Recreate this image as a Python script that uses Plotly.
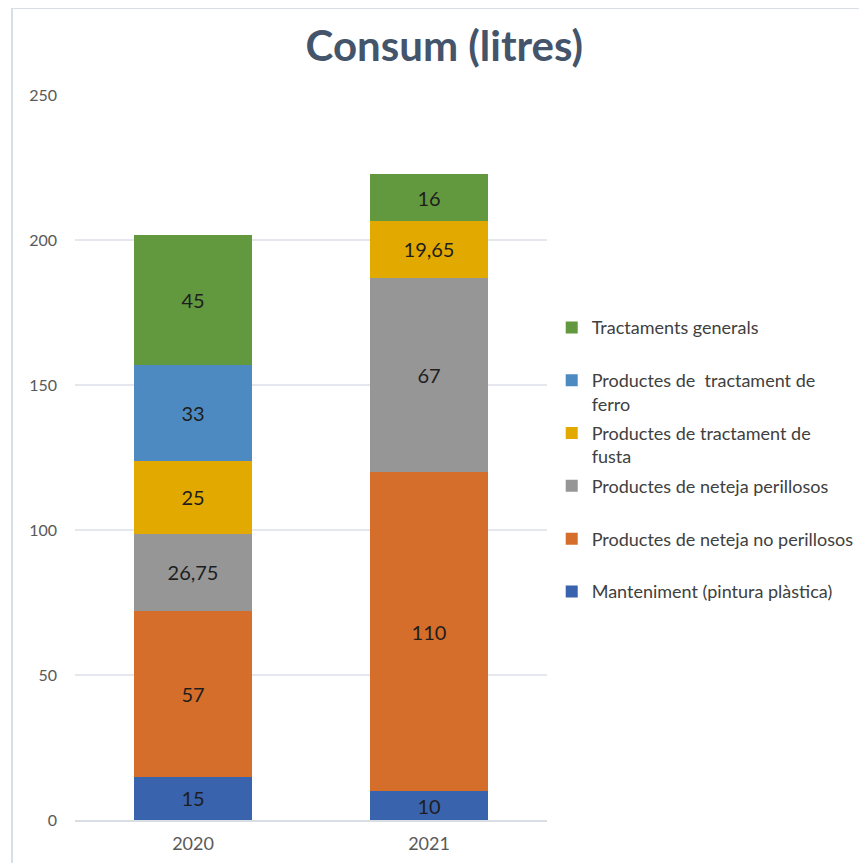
import plotly.graph_objects as go

years = ["2020", "2021"]
series_names = [
    "Manteniment (pintura plàstica)",
    "Productes de neteja no perillosos",
    "Productes de neteja perillosos",
    "Productes de tractament de<br>fusta",
    "Productes de  tractament de<br>ferro",
    "Tractaments generals",
]
manteniment = [15, 10]
neteja_no_perillosos = [57, 110]
neteja_perillosos = [26.75, 67]
tractament_fusta = [25, 19.65]
tractament_ferro = [33, None]
tractaments_generals = [45, 16]
colors = ["#3A63AD", "#D46E2A", "#969696", "#E2AA00", "#4E8AC2", "#62993E"]
y_ticks = [0, 50, 100, 150, 200, 250]

all_values = [manteniment, neteja_no_perillosos, neteja_perillosos,
              tractament_fusta, tractament_ferro, tractaments_generals]

def fmt(v):
    if v is None:
        return ""
    s = ("%g" % v)
    return s.replace(".", ",")

fig = go.Figure()
n = len(series_names)
for i, (name, vals, col) in enumerate(zip(series_names, all_values, colors)):
    label = name if "<br>" in name else name + "<br> "
    fig.add_trace(go.Bar(
        x=years, y=vals, name=label,
        marker=dict(color=col, line=dict(width=0)),
        text=[fmt(v) for v in vals],
        textposition="inside", insidetextanchor="middle", textangle=0,
        textfont=dict(size=20, color="#1e1e1e", family="Lato, sans-serif"),
        legendgroup=name, legendrank=1000 - i,
    ))

fig.update_layout(
    width=859, height=855,
    barmode="stack", bargap=0.5,
    paper_bgcolor="white", plot_bgcolor="white",
    margin=dict(l=67, r=320, t=87, b=43, autoexpand=False),
    font=dict(family="Lato, sans-serif", color="#595959"),
    title=dict(text="<b>Consum (litres)</b>", x=0.508, xanchor="center",
               y=0.955, yanchor="middle",
               font=dict(size=42, color="#44546A", family="Lato, sans-serif")),
    uniformtext=dict(minsize=20, mode="show"),
    legend=dict(x=1.010, xanchor="left", xref="paper", y=0.7045, yanchor="top",
                traceorder="grouped", tracegroupgap=3, valign="top",
                font=dict(size=18, color="#404040"), itemwidth=30,
                bgcolor="rgba(0,0,0,0)"),
    showlegend=True,
)
fig.update_xaxes(showgrid=False, showline=True, linecolor="#D9DEE5", linewidth=2,
                 tickfont=dict(size=18, color="#595959"), ticks="", ticklabelstandoff=6)
fig.update_yaxes(range=[0, 250], tickvals=y_ticks, showgrid=True, gridcolor="#E4E8EE",
                 gridwidth=1.5, zeroline=False, showline=False,
                 tickfont=dict(size=16, color="#595959"), ticklabelstandoff=17)

fig.add_shape(type="rect", xref="paper", yref="paper",
              x0=-0.1335, x1=1.9, y0=-0.3, y1=1.12,
              line=dict(color="#D9DEE5", width=2), fillcolor="rgba(0,0,0,0)", layer="below")

fig.write_html("out.html")
